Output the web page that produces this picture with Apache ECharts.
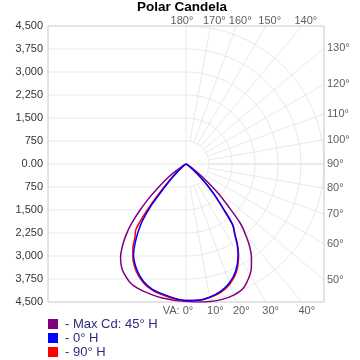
<!DOCTYPE html>
<html><head><meta charset="utf-8">
<script src="https://cdn.jsdelivr.net/npm/echarts@6/dist/echarts.min.js"></script>
<style>html,body{margin:0;padding:0;background:#fff}#c{width:360px;height:360px}</style>
</head><body><div id="c"></div>
<script>
const chartTitle = 'Polar Candela';
// vertical angles (degrees from nadir)
const vaAngles = [0,5,10,15,20,25,30,32.5,35,37.5,40,42.5,45,47.5,50,52.5,55,57.5,60,70,80,90];
const seriesNames = ['Max Cd: 45° H', '0° H', '90° H'];
// right half / left half of each plane (candela)
const maxCd45  = [4480,4520,4555,4570,4550,4450,4170,3970,3720,3420,3040,2620,1950,1450,950,600,300,150,70,10,0,0];
const maxCd225 = [4480,4460,4440,4400,4360,4280,4080,3930,3720,3420,3060,2620,2100,1600,1150,800,450,200,80,10,0,0];
const h0   = [4450,4460,4410,4310,4130,3840,3400,3100,2760,2500,1850,1400,1000,650,380,200,100,50,30,5,0,0];
const h180 = [4450,4390,4310,4230,4070,3800,3420,3100,2740,2330,1750,1050,650,380,220,120,70,40,20,5,0,0];
const h90  = [4450,4460,4420,4340,4170,3890,3430,3130,2780,2510,1860,1410,1010,660,390,200,100,50,30,5,0,0];
const h270 = [4450,4410,4340,4260,4100,3850,3470,3220,2900,2680,1990,1300,780,450,260,140,80,40,20,5,0,0];
const seriesColors = ['#800080', '#0000ff', '#ff0000'];
const radiusTicks = [0,750,1500,2250,3000,3750,4500];
const gridAngles = [0,10,20,30,40,50,60,70,80,90,100,110,120,130,140,150,160,170,180];
const RMAX = 4500;
const FONT = 'Liberation Sans';
const rad = a => a * Math.PI / 180;

function toXY(angles, right, left) {
  const pts = [];
  for (let i = angles.length - 1; i >= 0; i--) {
    const t = rad(angles[i]);
    pts.push([right[i] * Math.sin(t), -right[i] * Math.cos(t)]);
  }
  for (let i = 1; i < angles.length; i++) {
    const t = rad(angles[i]);
    pts.push([-left[i] * Math.sin(t), -left[i] * Math.cos(t)]);
  }
  return pts;
}

// grid structures
const arcs = radiusTicks.filter(r => r > 0).map(r => {
  const c = [];
  for (let a = 0; a <= 180; a += 2) c.push([r * Math.sin(rad(a)), -r * Math.cos(rad(a))]);
  return { coords: c };
});
const radials = gridAngles.filter(a => a !== 0 && a !== 180).map(a => {
  const s = Math.sin(rad(a)), co = Math.cos(rad(a));
  const e = RMAX / Math.max(Math.abs(s), Math.abs(co));
  const r0 = radiusTicks[1];
  return { coords: [[r0 * s, -r0 * co], [e * s, -e * co]] };
});
const hlines = radiusTicks.slice(1, -1).flatMap(r => [r, -r]).concat([0]).map(y => ({ coords: [[-RMAX, y], [0, y]] }));
hlines.push({ coords: [[0, -RMAX], [0, RMAX]] });
hlines.push({ coords: [[0, 0], [RMAX, 0]] });

const labelData = gridAngles.map(a => {
  const s = Math.sin(rad(a)), co = Math.cos(rad(a));
  const txt = (a === 0 ? 'VA: ' : '') + a + '°';
  if (a <= 40) {
    return { value: [RMAX * s / co, -RMAX], name: txt, label: { position: 'bottom', distance: 3, offset: [a === 0 ? -8 : 5, 0] } };
  } else if (a >= 140) {
    return { value: [RMAX * s / Math.abs(co), RMAX], name: txt, label: { position: 'top', distance: 0, offset: [a === 180 ? -4 : 4, 0] } };
  }
  return { value: [RMAX, -RMAX * co / s], name: txt, label: { position: 'right', distance: 3 } };
});

const gridStyle = { color: '#d4d4d4', width: 1 };
const chart = echarts.init(document.getElementById('c'), null, { renderer: 'canvas' });
chart.setOption({
  animation: false,
  backgroundColor: '#fff',
  title: { text: chartTitle, left: 137, top: 0, padding: 0, textStyle: { fontFamily: FONT, fontSize: 13.5, fontWeight: 'bold', color: '#000' } },
  grid: { left: 48, top: 26, width: 276, height: 276, show: true, borderColor: '#c8c8c8', borderWidth: 1, containLabel: false },
  xAxis: { type: 'value', min: -RMAX, max: RMAX, show: false },
  yAxis: {
    type: 'value', min: -RMAX, max: RMAX, interval: radiusTicks[1],
    axisLine: { show: false }, axisTick: { show: false }, splitLine: { show: false },
    axisLabel: { margin: 5, fontFamily: FONT, fontSize: 11, color: '#333',
      formatter: v => v === 0 ? '0.00' : Math.abs(v).toLocaleString('en-US') }
  },
  legend: {
    data: seriesNames, orient: 'vertical', left: 48, top: 317, height: 45, padding: 0,
    itemWidth: 10, itemHeight: 10, itemGap: 0,
    icon: 'rect', formatter: n => '- ' + n,
    textStyle: { fontFamily: FONT, fontSize: 13, color: '#2d2d7d', lineHeight: 14, padding: [0, 0, 0, 2] }
  },
  series: [
    { type: 'lines', coordinateSystem: 'cartesian2d', polyline: true, silent: true, data: hlines, lineStyle: gridStyle },
    { type: 'lines', coordinateSystem: 'cartesian2d', polyline: true, silent: true, data: arcs, lineStyle: gridStyle },
    { type: 'lines', coordinateSystem: 'cartesian2d', polyline: true, silent: true, data: radials, lineStyle: gridStyle },
    { type: 'scatter', silent: true, symbolSize: 0, data: labelData,
      label: { show: true, formatter: p => p.name, fontFamily: FONT, fontSize: 11, color: '#333' } },
    { name: seriesNames[0], type: 'line', data: toXY(vaAngles, maxCd45, maxCd225), smooth: 0.3, symbol: 'none',
      lineStyle: { color: seriesColors[0], width: 1.5 }, itemStyle: { color: seriesColors[0] } },
    { name: seriesNames[2], type: 'line', data: toXY(vaAngles, h90, h270), smooth: 0.3, symbol: 'none',
      lineStyle: { color: seriesColors[2], width: 1.5 }, itemStyle: { color: seriesColors[2] } },
    { name: seriesNames[1], type: 'line', data: toXY(vaAngles, h0, h180), smooth: 0.3, symbol: 'none',
      lineStyle: { color: seriesColors[1], width: 1.5 }, itemStyle: { color: seriesColors[1] } }
  ]
});
</script></body></html>
